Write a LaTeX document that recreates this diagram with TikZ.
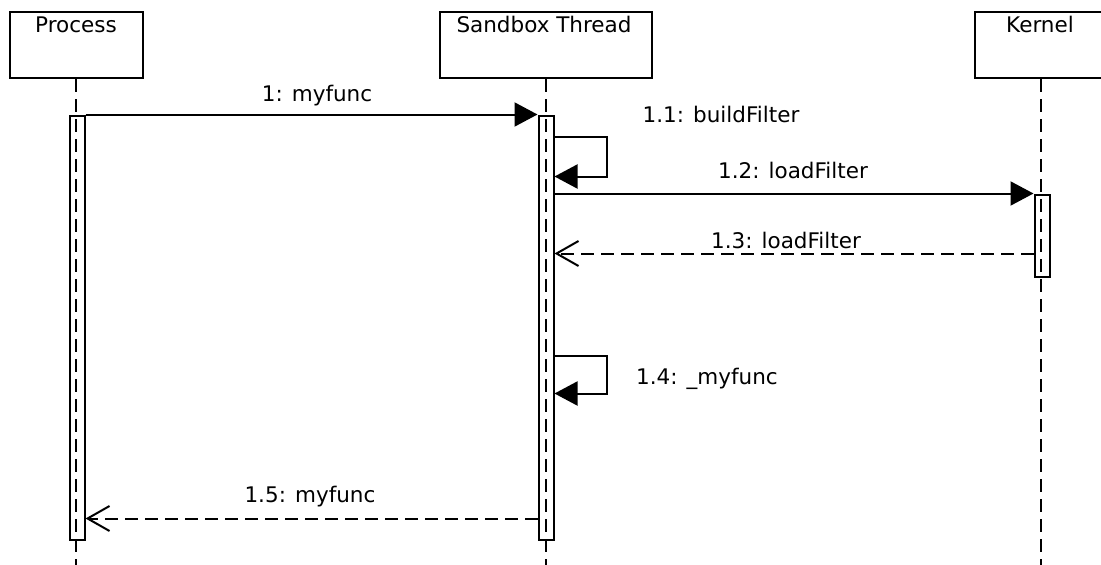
\documentclass[tikz,border=0pt]{standalone}
\usepackage{fontspec}
\setmainfont{DejaVu Sans}
\usetikzlibrary{arrows.meta,calc}
\begin{document}
\begin{tikzpicture}[x=1pt,y=-1pt,
  lw/.style={line width=2pt},
  actor/.style={draw,lw,rectangle,inner sep=0,minimum height=66pt},
  bar/.style={draw,lw,rectangle,inner sep=0,minimum width=15pt},
  lifeline/.style={lw,dash pattern=on 13pt off 7pt},
  txt/.style={inner sep=0,anchor=base,font=\fontsize{21.5}{24}\selectfont},
  call/.style={lw,-{Triangle[length=23pt,width=24pt]}},
  ret/.style={lw,dash pattern=on 13pt off 7pt,-{Straight Barb[length=22pt,width=25pt]}}]
\useasboundingbox (0,0) rectangle (1101,565);
\clip (0,0) rectangle (1101,565);
% actors
\node[actor,minimum width=133pt] (pbox) at (76,45) {};
\node[actor,minimum width=212pt] (sbox) at (546,45) {};
\node[actor,minimum width=132pt] (kbox) at (1041,45) {};
\node[txt] (ptxt) at (76,32) {Process};
\node[txt] (stxt) at (544,32) {Sandbox Thread};
\node[txt] (ktxt) at (1040,32) {Kernel};
% lifeline ends
\coordinate (pend) at (76,566);
\coordinate (send) at (546,566);
\coordinate (kend) at (1041,566);
\draw[lifeline] (pbox.south) -- (pend);
\draw[lifeline] (sbox.south) -- (send);
\draw[lifeline] (kbox.south) -- (kend);
% activation bars
\node[bar,minimum height=424pt] (pa) at (77,327.5) {};
\node[bar,minimum height=424pt] (sa) at (546,327.5) {};
\node[bar,minimum height=82pt] (ka) at (1042,235.5) {};
% 1: myfunc
\draw[call] (pa.north east) -- (sa.north west);
\node[txt] (l1) at (317,101) {1: myfunc};
% 1.1 buildFilter
\draw[call] ($(sa.north east)+(0,22)$) -- ++(52,0) -- ++(0,40) -- ($(sa.north east)+(0,62)$);
\node[txt] (l11) at (721,122) {1.1: buildFilter};
% 1.2 loadFilter
\draw[call] (sa.east |- ka.north) -- (ka.north west);
\node[txt] (l12) at (793,178) {1.2: loadFilter};
% 1.3 loadFilter return
\coordinate (r13) at ($(ka.north west)+(0,60)$);
\draw[ret] (r13) -- (sa.east |- r13);
\node[txt] (l13) at (786,248) {1.3: loadFilter};
% 1.4 _myfunc
\draw[call] ($(sa.north east)+(0,241)$) -- ++(52,0) -- ++(0,38) -- ($(sa.north east)+(0,279)$);
\node[txt] (l14) at (707,384) {1.4: \_myfunc};
% 1.5 myfunc return
\coordinate (r15) at ($(sa.south west)+(0,-22)$);
\draw[ret] (r15) -- (pa.east |- r15);
\node[txt] (l15) at (310,502) {1.5: myfunc};
\end{tikzpicture}
\end{document}
